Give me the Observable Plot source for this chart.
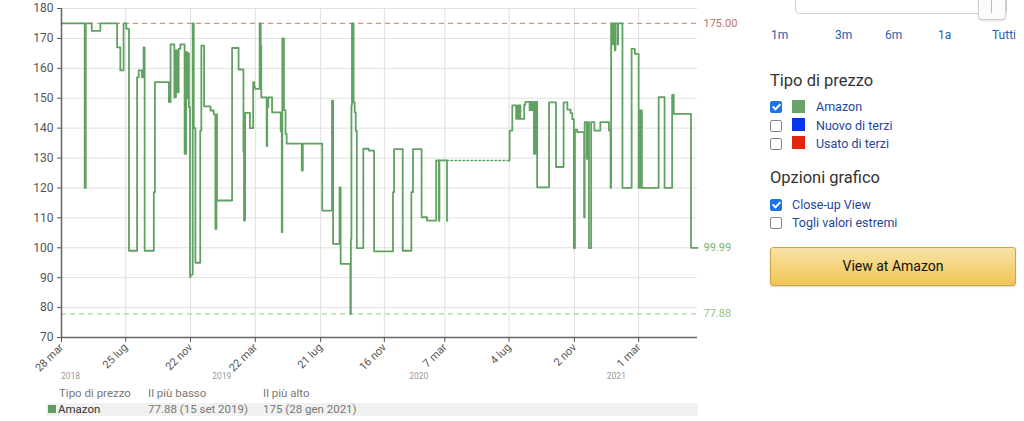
<!DOCTYPE html>
<html><head><meta charset="utf-8">
<script src="https://cdn.jsdelivr.net/npm/d3@7"></script>
<script src="https://cdn.jsdelivr.net/npm/@observablehq/plot@0.6"></script>
<style>
html,body{margin:0;padding:0;background:#fff;}
body{width:1024px;height:421px;overflow:hidden;position:relative;font-family:Roboto,"Open Sans",sans-serif;}
#chart{position:absolute;left:0;top:0;}
.abs{position:absolute;white-space:nowrap;}
.hdr{font-size:11.5px;color:#777;line-height:14px;}
#rowbg{position:absolute;left:46px;top:403px;width:652px;height:13px;background:#f1f1f1;}
.sw{position:absolute;width:8px;height:8px;background:#5e9e5e;}
.rng{font-size:12px;color:#2a5db0;line-height:14px;}
.h3{font-size:16.5px;color:#333;line-height:20px;}
.lbl{font-size:12.5px;color:#24469a;line-height:14px;}
.cb{position:absolute;width:10px;height:10px;border:1px solid #888;border-radius:2px;background:#fff;}
.cb.on{background:#1a73e8;border-color:#1a73e8;}
.cb.on::after{content:"";position:absolute;left:3px;top:0px;width:3px;height:6px;border:solid #fff;border-width:0 2px 2px 0;transform:rotate(45deg);}
.csw{position:absolute;width:13px;height:13px;}
#btn{position:absolute;left:770px;top:247px;width:244px;height:37px;border:1px solid #c9a54a;border-radius:3px;background:linear-gradient(#f8e3a8,#f0c550);box-shadow:0 1px 2px rgba(0,0,0,.15);font-size:14px;color:#111;text-align:center;line-height:37px;}
#slider{position:absolute;left:795px;top:-8px;width:210px;height:20px;border:1px solid #cfcfcf;border-radius:4px;background:#fff;}
#handle{position:absolute;left:978px;top:-6px;width:26px;height:24px;border:1px solid #cfcfcf;border-radius:4px;background:#fbfbfb;box-shadow:0 1px 2px rgba(0,0,0,.12);}
#handle::after{content:"";position:absolute;left:12px;top:4px;width:1px;height:14px;background:#bbb;}
</style></head><body>
<div id="chart"></div>

<div class="abs hdr" style="left:59px;top:386px;">Tipo di prezzo</div>
<div class="abs hdr" style="left:148px;top:386px;">Il più basso</div>
<div class="abs hdr" style="left:263px;top:386px;">Il più alto</div>
<div id="rowbg"></div>
<div class="sw" style="left:48px;top:405px;"></div>
<div class="abs hdr" style="left:58px;top:402px;color:#333;">Amazon</div>
<div class="abs hdr" style="left:148px;top:402px;">77.88 (15 set 2019)</div>
<div class="abs hdr" style="left:263px;top:402px;">175 (28 gen 2021)</div>

<div id="slider"></div><div id="handle"></div>
<div class="abs rng" style="left:771px;top:28px;">1m</div>
<div class="abs rng" style="left:835px;top:28px;">3m</div>
<div class="abs rng" style="left:885px;top:28px;">6m</div>
<div class="abs rng" style="left:938px;top:28px;">1a</div>
<div class="abs rng" style="left:992px;top:28px;">Tutti</div>

<div class="abs h3" style="left:770px;top:71px;">Tipo di prezzo</div>
<div class="cb on" style="left:770px;top:101px;"></div><div class="csw" style="left:792px;top:100px;background:#6aa36a;"></div><div class="abs lbl" style="left:816px;top:100px;">Amazon</div>
<div class="cb" style="left:770px;top:120px;"></div><div class="csw" style="left:792px;top:118px;background:#0a33f0;"></div><div class="abs lbl" style="left:816px;top:119px;">Nuovo di terzi</div>
<div class="cb" style="left:770px;top:138px;"></div><div class="csw" style="left:792px;top:136px;background:#e2230e;"></div><div class="abs lbl" style="left:816px;top:137px;">Usato di terzi</div>

<div class="abs h3" style="left:770px;top:168px;">Opzioni grafico</div>
<div class="cb on" style="left:770px;top:199px;"></div><div class="abs lbl" style="left:792px;top:198px;">Close-up View</div>
<div class="cb" style="left:770px;top:217px;"></div><div class="abs lbl" style="left:792px;top:216px;">Togli valori estremi</div>

<div id="btn">View at Amazon</div>

<script>
const priceDates = [
"2018-03-28","2018-05-10","2018-05-12","2018-05-23","2018-06-08","2018-07-09","2018-07-15","2018-07-21","2018-07-26","2018-07-31",
"2018-08-15","2018-08-18","2018-08-24","2018-08-27","2018-08-29","2018-09-15","2018-09-17","2018-10-13","2018-10-16","2018-10-23",
"2018-10-26","2018-10-29","2018-10-31","2018-11-03","2018-11-11","2018-11-14","2018-11-16","2018-11-18","2018-11-19","2018-11-21",
"2018-11-22","2018-11-26","2018-11-28","2018-12-01","2018-12-10","2018-12-12","2018-12-17","2018-12-29","2019-01-04","2019-01-07",
"2019-01-09","2019-01-10","2019-02-07","2019-02-19","2019-02-28","2019-03-01","2019-03-03","2019-03-12","2019-03-18","2019-03-20",
"2019-03-22","2019-03-30","2019-04-01","2019-04-02","2019-04-12","2019-04-13","2019-04-15","2019-04-22","2019-05-08","2019-05-10",
"2019-05-11","2019-05-14","2019-05-17","2019-05-19","2019-06-16","2019-06-18","2019-07-24","2019-08-11","2019-08-13","2019-08-25",
"2019-08-27","2019-09-14","2019-09-15","2019-09-16","2019-09-17","2019-09-20","2019-09-22","2019-09-24","2019-09-26","2019-10-08",
"2019-10-18","2019-10-28","2019-12-02","2019-12-04","2019-12-20","2020-01-05","2020-01-08","2020-01-24","2020-02-03","2020-02-20",
"2020-02-25","2020-02-26","2020-03-11","2020-03-12","2020-03-13",
"2020-07-04","2020-07-05","2020-07-10","2020-07-17","2020-07-19","2020-07-21","2020-07-23","2020-07-25","2020-08-01","2020-08-03",
"2020-08-11","2020-08-12","2020-08-14","2020-08-16","2020-08-19","2020-08-21","2020-08-23","2020-08-24","2020-08-25","2020-09-16",
"2020-09-29","2020-10-13","2020-10-20","2020-10-26","2020-10-29","2020-11-01","2020-11-03","2020-11-07","2020-11-20","2020-11-21",
"2020-11-25","2020-11-27","2020-11-29","2020-12-03","2020-12-09","2020-12-20","2021-01-05","2021-01-08","2021-01-09","2021-01-12",
"2021-01-14","2021-01-16","2021-01-17","2021-01-21","2021-01-22","2021-01-28","2021-01-30",
"2021-02-16","2021-02-22","2021-03-01","2021-03-02","2021-03-04","2021-03-05","2021-03-07","2021-04-07","2021-04-18","2021-05-02",
"2021-05-05","2021-06-06","2021-06-18"
];
const priceValues = [
175,120,175,172.5,175,167,159.3,175,173.2,99,
157,159.3,157,167,99,118.6,155.4,148.7,168,150.3,
166,152,166.5,168,131.4,165.4,150,165,147,90.2,
91,175,140,95,139.2,167.6,147.3,145.9,144.6,106.3,
144.6,115.8,166.8,159.6,132,109.1,145.1,140,155.4,153.6,
153.1,175,167.6,150.3,134,147,150.3,145.3,139,105.2,
170,146,138.1,134.8,125.8,134.8,112.4,149.2,101.3,120.2,
94.6,77.88,103,147.6,175,148.6,145.3,139.2,99.9,133.1,
132.5,98.8,118.6,133,99,118.6,133,110.2,109.1,129.2,
109,129.2,109,109,null,
129.2,139.2,147.6,143.1,147.6,143.1,147.6,143.1,147.8,148.8,
146,148.8,146,148.8,131.4,148.8,131.4,148.8,120.2,148.6,
127,148.6,146.2,145,143,99.9,139.5,138.7,110.2,142,
129.7,142,99.9,142,139.2,142,139.2,120,175,168,
175,166,175,168,175,175,120,
166.5,164.8,120,145.9,120,145.9,120,150.4,120,151.1,
144.8,99.99,99.99
];
const gapDates = ["2020-03-11","2020-07-04"];
const gapValues = [129.2,129.2];
const tickDates = ["2018-03-28","2018-07-25","2018-11-22","2019-03-22","2019-07-21","2019-11-16","2020-03-07","2020-07-04","2020-11-02","2021-03-01"];
const tickLabels = ["28 mar","25 lug","22 nov","22 mar","21 lug","16 nov","7 mar","4 lug","2 nov","1 mar"];
const yTicks = [70,80,90,100,110,120,130,140,150,160,170,180];
const yearDates = ["2018-03-27","2019-01-01","2020-01-01","2021-01-01"];
const yearLabels = ["2018","2019","2020","2021"];
const markerValues = [175, 99.99, 77.88];
const markerLabels = ["175.00","99.99","77.88"];
const domainDates = ["2018-03-28","2021-06-18"];

const parse = s => new Date(s + "T00:00:00Z");
const series = priceDates.map((d, i) => ({date: parse(d), price: priceValues[i]}));
const gap = gapDates.map((d, i) => ({date: parse(d), price: gapValues[i]}));
const ticks = tickDates.map(parse);
const labelMap = new Map(ticks.map((t, i) => [+t, tickLabels[i]]));
const years = yearDates.map((d, i) => ({date: parse(d), label: yearLabels[i]}));
const markers = markerValues.map((v, i) => ({v, label: markerLabels[i]}));
const green = "#61a161";

const chart = Plot.plot({
  width: 740, height: 385,
  marginLeft: 61, marginRight: 43, marginTop: 8, marginBottom: 48,
  style: {fontFamily: "Roboto, sans-serif", background: "transparent", overflow: "visible"},
  x: {type: "utc", domain: domainDates.map(parse)},
  y: {domain: [yTicks[0], yTicks[yTicks.length - 1]]},
  marks: [
    Plot.gridY({ticks: yTicks, stroke: "#e0e0e0", strokeOpacity: 1}),
    Plot.gridX({ticks: ticks, stroke: "#e0e0e0", strokeOpacity: 1}),
    Plot.ruleY([markers[0]], {y: "v", stroke: "#d4908b", strokeDasharray: "5,4", strokeWidth: 1.2}),
    Plot.ruleY([markers[2]], {y: "v", stroke: "#a9d3a1", strokeDasharray: "5,4", strokeWidth: 1.2}),
    Plot.line(gap, {x: "date", y: "price", stroke: green, strokeWidth: 1.6, strokeDasharray: "1.5,2.5"}),
    Plot.line(series, {x: "date", y: "price", curve: "step-after", stroke: green, strokeWidth: 1.8}),
    Plot.ruleX([parse(domainDates[0])], {stroke: "#666", strokeWidth: 1.5}),
    Plot.ruleY([yTicks[0]], {stroke: "#666", strokeWidth: 1.5}),
    Plot.axisY({ticks: yTicks, tickSize: 4, tickPadding: 4, fontSize: 12, color: "#555", label: null}),
    Plot.axisX({ticks: ticks, tickFormat: d => labelMap.get(+d), tickRotate: -45, tickSize: 5, tickPadding: 3, fontSize: 11, color: "#555", label: null}),
    Plot.text(years, {x: "date", text: "label", frameAnchor: "bottom", dy: 41, textAnchor: "start", fontSize: 8.5, fill: "#999"}),
    Plot.text([markers[0]], {y: "v", text: "label", frameAnchor: "right", dx: 6, textAnchor: "start", fontSize: 11, fill: "#c0706b"}),
    Plot.text([markers[1]], {y: "v", text: "label", frameAnchor: "right", dx: 6, textAnchor: "start", fontSize: 11, fill: "#7cb46e"}),
    Plot.text([markers[2]], {y: "v", text: "label", frameAnchor: "right", dx: 6, textAnchor: "start", fontSize: 11, fill: "#8dc485"})
  ]
});
document.getElementById("chart").appendChild(chart);
</script>
</body></html>
